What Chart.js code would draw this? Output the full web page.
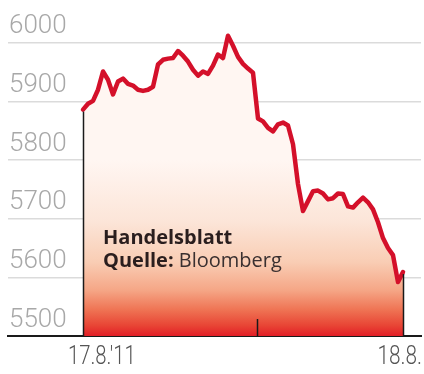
<!DOCTYPE html>
<html>
<head>
<meta charset="utf-8">
<script src="https://cdn.jsdelivr.net/npm/chart.js@4.4.1/dist/chart.umd.min.js"></script>
<style>
  html, body { margin: 0; padding: 0; background: #ffffff; }
  #wrap { width: 424px; height: 374px; position: relative; }
</style>
</head>
<body>
<div id="wrap"><canvas id="c" width="424" height="374"></canvas></div>
<script>
// DAX intraday, 17.8.2011 – 18.8.2011 (regular samples)
const values = [
  5886, 5896, 5901, 5920, 5951, 5937, 5912, 5934, 5939, 5930,
  5927, 5920, 5918, 5920, 5925, 5963, 5971, 5973, 5974, 5986,
  5978, 5968, 5954, 5944, 5951, 5947, 5961, 5980, 5974, 6012,
  5995, 5976, 5964, 5956, 5949, 5871, 5866, 5855, 5849, 5861,
  5864, 5859, 5827, 5759, 5713, 5730, 5747, 5748, 5743, 5733,
  5735, 5743, 5742, 5721, 5719, 5728, 5736, 5728, 5716, 5694,
  5667, 5650, 5638, 5592, 5609
];
const sampleIndex = values.map((_, i) => i);
const dayBreak = 34.8;                 // sample position where 18.8. begins
const xLabels = ["17.8.'11", "18.8."];
const yTicks = [5500, 5600, 5700, 5800, 5900, 6000];
const yMin = 5500, yMax = 6044;
const sourceLines = [["Handelsblatt", ""], ["Quelle:", "Bloomberg"]];

const points = values.map((v, i) => ({ x: sampleIndex[i], y: v }));

function fillGradient(c) {
  const chart = c.chart;
  const { ctx, chartArea, scales } = chart;
  if (!chartArea) return 'rgba(0,0,0,0)';
  const top = scales.y.getPixelForValue(5800);
  const bottom = scales.y.getPixelForValue(5500);
  const g = ctx.createLinearGradient(0, top, 0, bottom);
  g.addColorStop(0.00, '#fff6f2');
  g.addColorStop(0.35, '#fce5d8');
  g.addColorStop(0.58, '#f9cdb4');
  g.addColorStop(0.74, '#f5a686');
  g.addColorStop(0.85, '#ef7454');
  g.addColorStop(0.94, '#e84535');
  g.addColorStop(1.00, '#e21e26');
  return g;
}

function condensedText(ctx, text, x, y, align, squeeze) {
  ctx.save();
  const w = ctx.measureText(text).width * squeeze;
  const left = align === 'right' ? x - w : x;
  ctx.translate(left, y);
  ctx.scale(squeeze, 1);
  ctx.textAlign = 'left';
  ctx.fillText(text, 0, 0);
  ctx.restore();
}

const decor = {
  id: 'decor',
  afterDraw(chart) {
    const { ctx, scales: { x, y } } = chart;
    const base = y.getPixelForValue(yMin);
    ctx.save();
    ctx.strokeStyle = '#1a1a1a';
    ctx.lineWidth = 1.5;
    [0, values.length - 1].forEach(i => {
      const px = Math.round(x.getPixelForValue(sampleIndex[i])) + 0.5;
      ctx.beginPath();
      ctx.moveTo(px, base);
      ctx.lineTo(px, y.getPixelForValue(values[i]) + 2);
      ctx.stroke();
    });
    const dp = Math.round(x.getPixelForValue(dayBreak)) + 0.5;
    ctx.beginPath();
    ctx.moveTo(dp, base);
    ctx.lineTo(dp, base - 17);
    ctx.stroke();

    // x labels
    ctx.fillStyle = '#555555';
    ctx.textBaseline = 'middle';
    ctx.font = '300 26px Roboto, sans-serif';
    condensedText(ctx, xLabels[0], x.getPixelForValue(sampleIndex[0]) - 15, base + 21, 'left', 0.78);
    condensedText(ctx, xLabels[1], x.getPixelForValue(sampleIndex[values.length - 1]) + 19, base + 21, 'right', 0.8);

    // source note
    const sx = x.getPixelForValue(sampleIndex[0]) + 20;
    ctx.textAlign = 'left';
    ctx.textBaseline = 'alphabetic';
    sourceLines.forEach((ln, k) => {
      const by = 244 + k * 23;
      ctx.font = 'bold 20px "Open Sans", sans-serif';
      ctx.fillStyle = '#2a1e1e';
      ctx.fillText(ln[0], sx, by);
      if (ln[1]) {
        const w = ctx.measureText(ln[0] + ' ').width;
        ctx.font = '20px "Open Sans", sans-serif';
        ctx.fillStyle = '#3a3030';
        ctx.fillText(ln[1], sx + w, by);
      }
    });
    ctx.restore();
  }
};

new Chart(document.getElementById('c'), {
  type: 'line',
  data: {
    datasets: [{
      data: points,
      borderColor: '#d4102a',
      borderWidth: 4.5,
      borderJoinStyle: 'round',
      borderCapStyle: 'round',
      pointRadius: 0,
      tension: 0,
      fill: 'start',
      backgroundColor: fillGradient
    }]
  },
  options: {
    responsive: false,
    animation: false,
    events: [],
    layout: { padding: { left: 6, right: 3, top: 17, bottom: 38 } },
    plugins: { legend: { display: false }, tooltip: { enabled: false } },
    scales: {
      x: {
        type: 'linear',
        min: -15,
        max: 67.6,
        ticks: { display: false },
        grid: { display: false, drawTicks: false },
        border: { display: true, color: '#1a1a1a', width: 2 }
      },
      y: {
        min: yMin,
        max: yMax,
        z: 1,
        afterBuildTicks: (s) => { s.ticks = yTicks.map(v => ({ value: v })); },
        ticks: {
          mirror: true,
          padding: 1,
          labelOffset: -16,
          color: '#a8a8a8',
          font: { family: 'Roboto', size: 26, weight: '300' },
          callback: (v) => String(v)
        },
        grid: {
          drawTicks: false,
          lineWidth: 1.5,
          color: (c) => (c.tick && c.tick.value === 5500) ? 'rgba(0,0,0,0)' : 'rgba(0,0,0,0.14)'
        },
        border: { display: false }
      }
    }
  },
  plugins: [decor]
});
</script>
</body>
</html>
